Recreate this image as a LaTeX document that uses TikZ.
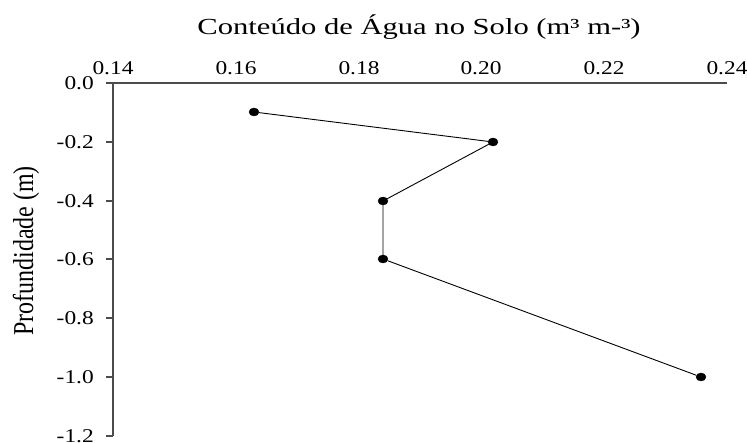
\documentclass[tikz,border=0pt]{standalone}
\usepackage{fontspec}
\setmainfont{Liberation Serif}
\usetikzlibrary{positioning,shapes.geometric}

\begin{document}
\begin{tikzpicture}[x=1pt,y=-1pt]
    % `axisline' is used for the two axes and their ticks.
    % `datadot' is used for the measured points (dots).
    % `ticklabel' and `titletext' are used for the texts.
    \tikzstyle{axisline} = [draw=black!70,line width=1.1pt]
    \tikzstyle{dataline} = [draw=black,line width=0.9pt]
    \tikzstyle{datadot} = [draw,fill,shape=ellipse,minimum width=10pt,minimum height=8pt,inner sep=0pt]
    \tikzstyle{ticklabel} = [font=\fontsize{19.5}{19.5}\selectfont,inner sep=0pt,xscale=1.2]
    \tikzstyle{titletext} = [font=\fontsize{23}{23}\selectfont,inner sep=0pt]
    %
    \useasboundingbox (0,0) rectangle (747,443);
    \coordinate (origin) at (113,83);
    \coordinate (xend) at (727,83);
    \coordinate (yend) at (113,436);

    % Title and axis label.
    \node[titletext,anchor=base,xscale=1.33] (title) at (419,35) {Conteúdo de Água no Solo (m³ m-³)};
    \node[titletext,font=\fontsize{24}{24}\selectfont,rotate=90,yscale=1.2] (ylabel) at (26,251) {Profundidade (m)};

    % Tick labels of the water content axis.
    \node[ticklabel,anchor=base] (x014) at (113,75) {0.14};
    \node[ticklabel,anchor=base] (x016) at (236,75) {0.16};
    \node[ticklabel,anchor=base] (x018) at (359,75) {0.18};
    \node[ticklabel,anchor=base] (x020) at (481,75) {0.20};
    \node[ticklabel,anchor=base] (x022) at (604,75) {0.22};
    \node[ticklabel,anchor=base] (x024) at (727,75) {0.24};

    % Tick labels of the depth axis.
    \node[ticklabel,anchor=east] (y00) at (94,83) {0.0};
    \node[ticklabel,anchor=east] (y02) at (94,142) {-0.2};
    \node[ticklabel,anchor=east] (y04) at (94,201) {-0.4};
    \node[ticklabel,anchor=east] (y06) at (94,259) {-0.6};
    \node[ticklabel,anchor=east] (y08) at (94,318) {-0.8};
    \node[ticklabel,anchor=east] (y10) at (94,377) {-1.0};
    \node[ticklabel,anchor=east] (y12) at (94,436) {-1.2};

    % Draw axes and ticks.
    \draw[axisline] (origin) -- (xend)  (origin) -- (yend);
    \draw[axisline] (106,83) -- (origin)  (106,142) -- (113,142)  (106,201) -- (113,201)
                    (106,259) -- (113,259)  (106,318) -- (113,318)  (106,377) -- (113,377)
                    (106,436) -- (yend);

    % Measured points.
    \node[datadot] (p1) at (254,112) {};
    \node[datadot] (p2) at (493,142) {};
    \node[datadot] (p3) at (383,201) {};
    \node[datadot] (p4) at (383,259) {};
    \node[datadot] (p5) at (701,377) {};
    \draw[dataline] (p1) -- (p2) -- (p3) -- (p4) -- (p5);
\end{tikzpicture}
\end{document}
